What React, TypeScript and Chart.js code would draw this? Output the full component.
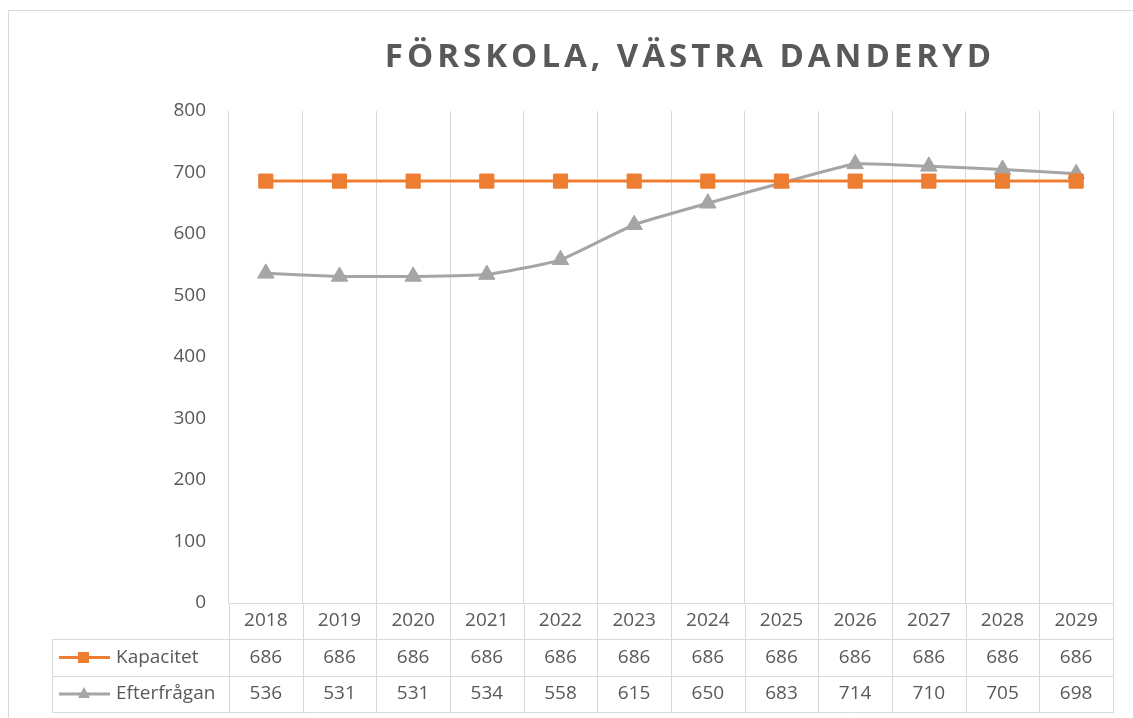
import React, { useEffect, useRef } from "react";
import { Chart, registerables } from "chart.js";

Chart.register(...registerables);

const title = "FÖRSKOLA, VÄSTRA DANDERYD";
const years = ["2018", "2019", "2020", "2021", "2022", "2023", "2024", "2025", "2026", "2027", "2028", "2029"];
const kapacitet = [686, 686, 686, 686, 686, 686, 686, 686, 686, 686, 686, 686];
const efterfragan = [536, 531, 531, 534, 558, 615, 650, 683, 714, 710, 705, 698];
const seriesNames = ["Kapacitet", "Efterfrågan"];

const ORANGE = "#ED7D31";
const GRAY = "#A5A5A5";
const TEXT = "#595959";
const LINE = "#D9D9D9";
const FONT = "'Open Sans', 'Noto Sans', sans-serif";

const tablePlugin = {
  id: "excelTable",
  beforeDraw(chart: any) {
    const ctx = chart.ctx;
    ctx.save();
    ctx.fillStyle = "#ffffff";
    ctx.fillRect(0, 0, chart.width, chart.height);
    ctx.strokeStyle = LINE;
    ctx.lineWidth = 1;
    ctx.beginPath();
    ctx.moveTo(8.5, chart.height);
    ctx.lineTo(8.5, 10.5);
    ctx.lineTo(chart.width, 10.5);
    ctx.stroke();
    ctx.restore();
  },
  afterDraw(chart: any) {
    const ctx = chart.ctx;
    const { left, right, bottom } = chart.chartArea;
    const xs = chart.scales.x;
    const n = years.length;
    const colW = (right - left) / n;
    const headerBottom = bottom + 36;
    const row1Bottom = headerBottom + 37;
    const row2Bottom = row1Bottom + 36;
    const legendLeft = 52;

    ctx.save();
    // title
    ctx.fillStyle = TEXT;
    ctx.font = `bold 33px ${FONT}`;
    (ctx as any).letterSpacing = "4px";
    ctx.textAlign = "center";
    ctx.textBaseline = "middle";
    ctx.fillText(title, 690, 58);
    (ctx as any).letterSpacing = "0px";

    // table lines
    ctx.strokeStyle = LINE;
    ctx.lineWidth = 1;
    ctx.beginPath();
    for (let i = 0; i <= n; i++) {
      const x = Math.round(left + i * colW) + 0.5;
      ctx.moveTo(x, bottom);
      ctx.lineTo(x, row2Bottom);
    }
    ctx.moveTo(legendLeft + 0.5, headerBottom);
    ctx.lineTo(legendLeft + 0.5, row2Bottom);
    for (const y of [headerBottom, row1Bottom, row2Bottom]) {
      ctx.moveTo(legendLeft, y + 0.5);
      ctx.lineTo(Math.round(right) + 1, y + 0.5);
    }
    ctx.stroke();

    // text
    ctx.fillStyle = TEXT;
    ctx.font = `19px ${FONT}`;
    ctx.textAlign = "center";
    ctx.textBaseline = "middle";
    const hy = (bottom + headerBottom) / 2;
    const r1 = (headerBottom + row1Bottom) / 2;
    const r2 = (row1Bottom + row2Bottom) / 2;
    for (let i = 0; i < n; i++) {
      const x = xs.getPixelForValue(i);
      ctx.fillText(years[i], x, hy);
      ctx.fillText(String(kapacitet[i]), x, r1);
      ctx.fillText(String(efterfragan[i]), x, r2);
    }
    ctx.textAlign = "left";
    ctx.fillText(seriesNames[0], 116, r1);
    ctx.fillText(seriesNames[1], 116, r2);

    // legend keys
    ctx.lineWidth = 3;
    ctx.strokeStyle = ORANGE;
    ctx.beginPath();
    ctx.moveTo(59, r1);
    ctx.lineTo(110, r1);
    ctx.stroke();
    ctx.fillStyle = ORANGE;
    ctx.fillRect(78, r1 - 5.5, 11, 11);

    ctx.strokeStyle = GRAY;
    ctx.beginPath();
    ctx.moveTo(59, r2);
    ctx.lineTo(110, r2);
    ctx.stroke();
    ctx.fillStyle = GRAY;
    ctx.beginPath();
    ctx.moveTo(84, r2 - 7);
    ctx.lineTo(90, r2 + 4);
    ctx.lineTo(78, r2 + 4);
    ctx.closePath();
    ctx.fill();
    ctx.restore();
  },
};

export default function App() {
  const ref = useRef<HTMLCanvasElement>(null);
  useEffect(() => {
    document.body.style.margin = "0";
    const canvas = ref.current!;
    const chart = new Chart(canvas, {
      type: "line",
      data: {
        labels: years,
        datasets: [
          {
            label: seriesNames[0],
            data: kapacitet,
            borderColor: ORANGE,
            backgroundColor: ORANGE,
            borderWidth: 3,
            pointStyle: "rect",
            pointRadius: 10,
            pointBorderWidth: 1,
            tension: 0,
          },
          {
            label: seriesNames[1],
            data: efterfragan,
            borderColor: GRAY,
            backgroundColor: GRAY,
            borderWidth: 3,
            pointStyle: "triangle",
            pointRadius: 9.5,
            pointBorderWidth: 1,
            tension: 0.15,
          },
        ],
      },
      options: {
        responsive: false,
        devicePixelRatio: 1,
        animation: false,
        layout: { padding: { top: 111, right: 20, left: 0, bottom: 0 } },
        plugins: {
          legend: { display: false },
          title: { display: false },
          tooltip: { enabled: false },
        },
        scales: {
          x: {
            type: "category",
            offset: true,
            grid: { offset: true, color: LINE, drawTicks: false, lineWidth: 1 },
            border: { display: true, color: LINE },
            ticks: { display: false },
            afterFit: (s: any) => {
              s.height = 115;
            },
          },
          y: {
            min: 0,
            max: 800,
            ticks: { stepSize: 100, color: TEXT, font: { family: FONT, size: 19 }, padding: 23 },
            grid: { display: false, drawTicks: false },
            border: { display: false },
            afterFit: (s: any) => {
              s.width = 229;
            },
          },
        },
      },
      plugins: [tablePlugin],
    } as any);
    return () => chart.destroy();
  }, []);
  return (
    <div style={{ width: 1133, height: 718 }}>
      <canvas ref={ref} width={1133} height={718} />
    </div>
  );
}
